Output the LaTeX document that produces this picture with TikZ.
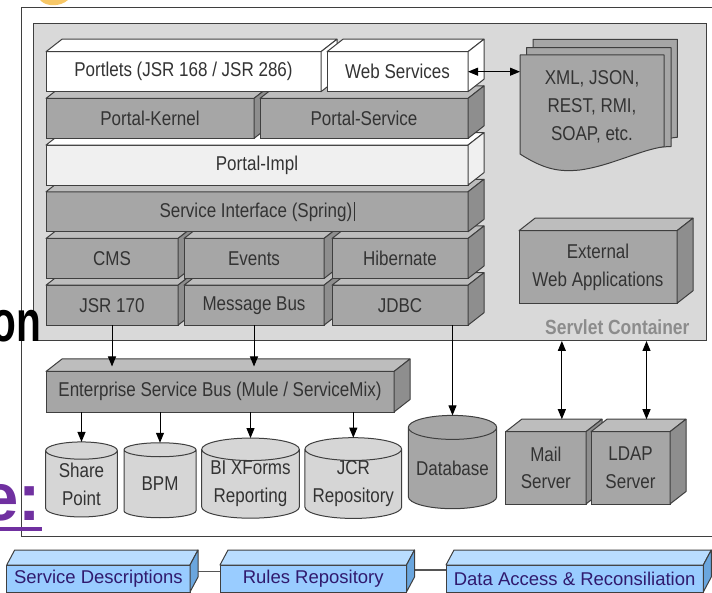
\documentclass[tikz,border=0pt]{standalone}
\usepackage{fontspec}
\setmainfont{Liberation Sans}
\newfontfamily\diagfont{Liberation Sans}[FakeStretch=0.85]
\usetikzlibrary{shapes.geometric,arrows.meta}

\definecolor{edgegray}{HTML}{3F3F3F}
\definecolor{boxgray}{HTML}{A6A6A6}
\definecolor{boxtop}{HTML}{BDBDBD}
\definecolor{boxside}{HTML}{8E8E8E}
\definecolor{panegray}{HTML}{D9D9D9}
\definecolor{implfill}{HTML}{F0F0F0}
\definecolor{cylfill}{HTML}{D6D6D6}
\definecolor{textgray}{HTML}{333333}
\definecolor{labelgray}{HTML}{8C8C8C}
\definecolor{linkgray}{HTML}{555555}
\definecolor{bluefront}{HTML}{99CCFF}
\definecolor{bluetop}{HTML}{B9DDFF}
\definecolor{blueside}{HTML}{6AA6DE}
\definecolor{bluetext}{HTML}{301A6E}
\definecolor{slidepurple}{HTML}{7030A0}
\definecolor{blobyellow}{HTML}{F7C767}

\newcommand{\lblfont}{\diagfont\fontsize{20}{28}\selectfont}
% top and right face of a block node: [depth]{node}{top fill}{side fill}
\newcommand{\cubefaces}[4][16,-12.5]{%
  \filldraw[face, fill=#3] (#2.north west) -- ([shift={(#1)}]#2.north west)
    -- ([shift={(#1)}]#2.north east) -- (#2.north east) -- cycle;
  \filldraw[face, fill=#4] (#2.north east) -- ([shift={(#1)}]#2.north east)
    -- ([shift={(#1)}]#2.south east) -- (#2.south east) -- cycle;
}

\tikzset{face/.style={draw=edgegray, line width=1pt, line join=round}}
\tikzset{blk/.style={draw=edgegray, line width=1pt, inner sep=0pt, outer sep=0pt,
  anchor=north west, minimum height=40, font=\lblfont, text=textgray, align=center}}
\tikzset{gblk/.style={blk, fill=boxgray}}
\tikzset{wblk/.style={blk, fill=white}}
\tikzset{iblk/.style={blk, fill=implfill}}
\tikzset{cyl/.style={cylinder, shape border rotate=90, aspect=0.38, draw=edgegray,
  line width=1pt, inner sep=0pt, outer sep=0pt, fill=cylfill, font=\lblfont,
  text=textgray, align=center}}
\tikzset{arr/.style={draw=black, line width=1pt, -{Triangle[length=10pt,width=8pt]}}}
\tikzset{dblarr/.style={draw=black, line width=1pt,
  {Triangle[length=10pt,width=8pt]}-{Triangle[length=10pt,width=8pt]}}}
\tikzset{bluebox/.style={draw=edgegray, line width=1pt, fill=bluefront, inner sep=0pt,
  outer sep=0pt, anchor=north west, minimum height=27,
  font=\fontsize{18.5}{20}\selectfont, text=bluetext}}
\tikzset{link/.style={draw=linkgray, line width=1.5pt}}

\begin{document}
\begin{tikzpicture}[x=1pt, y=-1pt]
    \path[use as bounding box, clip] (0,0) rectangle (712,593);

    \fill[blobyellow] (40,0) .. controls (46,7) and (60,7) .. (68,0) -- cycle;

    \node[draw=edgegray, line width=1pt, fill=white, anchor=north west, inner sep=0pt,
      minimum width=720, minimum height=529.3] (frame) at (20.7,6.7) {};
    \node[draw=edgegray, line width=1pt, fill=panegray, anchor=north west, inner sep=0pt,
      outer sep=0pt, minimum width=672.7, minimum height=317.7] (servlet) at (33.3,23.3) {};

    % portal stack, bottom row first
    \node[gblk, minimum width=132] (jsr) at (46,285.2) {JSR 170};
    \cubefaces{jsr}{boxtop}{boxside}
    \node[gblk, minimum width=140] (msgbus) at (184,285.2) {Message Bus};
    \cubefaces{msgbus}{boxtop}{boxside}
    \node[gblk, minimum width=136] (jdbc) at (332,285.2) {JDBC};
    \cubefaces{jdbc}{boxtop}{boxside}

    \node[gblk, minimum width=132] (cms) at (46,238.5) {CMS};
    \cubefaces{cms}{boxtop}{boxside}
    \node[gblk, minimum width=140] (events) at (184,238.5) {Events};
    \cubefaces{events}{boxtop}{boxside}
    \node[gblk, minimum width=136] (hibernate) at (332,238.5) {Hibernate};
    \cubefaces{hibernate}{boxtop}{boxside}

    \node[gblk, minimum width=422] (spring) at (46,191.8)
      {Service Interface (Spring)\hspace{1.5pt}\rule[-4pt]{0.7pt}{19pt}};
    \cubefaces{spring}{boxtop}{boxside}

    \node[iblk, minimum width=422] (impl) at (46,145.1) {Portal-Impl};
    \cubefaces{impl}{white}{implfill}

    \node[gblk, minimum width=208] (kernel) at (46,98.4) {Portal-Kernel};
    \cubefaces{kernel}{boxtop}{boxside}
    \node[gblk, minimum width=208] (service) at (260,98.4) {Portal-Service};
    \cubefaces{service}{boxtop}{boxside}

    \node[wblk, minimum width=275] (portlets) at (46,51.7) {Portlets (JSR 168 / JSR 286)};
    \cubefaces{portlets}{white}{white}
    \node[wblk, minimum width=141] (web) at (327,51.7) {Web Services};
    \cubefaces{web}{white}{white}

    % stacked documents
    \filldraw[face, fill=boxgray] (533,39.3) -- (677.3,39.3) -- (677.3,137.3)
      .. controls (672,137.5) and (668,139) .. (664,140) -- (533,140) -- cycle;
    \filldraw[face, fill=boxgray] (526.5,47.7) -- (671,47.7) -- (671,146.7)
      .. controls (662,146.5) and (650,148) .. (640,150) -- (526.5,150) -- cycle;
    \filldraw[face, fill=boxgray] (520,55) -- (664,55) -- (664,146.7)
      .. controls (640,150) and (610,166) .. (580,170)
      .. controls (560,172) and (545,170) .. (520,154) -- cycle;
    \node[font=\lblfont, text=textgray, align=center] (formats) at (592,107)
      {XML, JSON,\\REST, RMI,\\SOAP, etc.};
    \coordinate (docs) at (520,71.7);

    \node[gblk, minimum width=158, minimum height=72.6] (extweb) at (519,230.7)
      {External\\Web Applications};
    \cubefaces{extweb}{boxtop}{boxside}

    \node[font=\diagfont\bfseries\fontsize{20.5}{22}\selectfont, text=labelgray, anchor=east]
      (svlabel) at (693,327) {Servlet Container};

    % bus, stores and servers
    \node[gblk, minimum width=348, minimum height=40.5] (esb) at (46,371.5)
      {Enterprise Service Bus (Mule / ServiceMix)};
    \cubefaces{esb}{boxtop}{boxside}

    \node[cyl, minimum width=71.6, minimum height=75] (share) at (81.5,484) {Share\\Point};
    \node[cyl, minimum width=72, minimum height=75] (bpm) at (160,484) {BPM};
    \node[cyl, aspect=0.28, minimum width=97.6, minimum height=75] (bi) at (250.5,484) {BI XForms\\Reporting};
    \node[cyl, aspect=0.28, minimum width=96.7, minimum height=75] (jcr) at (353.3,484) {JCR\\Repository};
    \node[cyl, aspect=0.33, fill=boxgray, minimum width=88.4, minimum height=93.3] (db) at (452.5,468.3) {Database};

    \node[gblk, minimum width=80.3, minimum height=72.3] (mail) at (505.7,431.7) {Mail\\Server};
    \cubefaces{mail}{boxtop}{boxside}
    \node[gblk, minimum width=79, minimum height=72.3] (ldap) at (591,431.7) {LDAP\\Server};
    \cubefaces{ldap}{boxtop}{boxside}
    \coordinate (mailtop) at ([shift={(16,-12.5)}]mail.north);
    \coordinate (ldaptop) at ([shift={(16,-12.5)}]ldap.north);

    \draw[dblarr] (web.east) -- (web.east -| docs);
    \draw[arr, shorten >=5pt] (jsr.south) -- (jsr.south |- esb.north);
    \draw[arr, shorten >=5pt] (msgbus.south) -- (msgbus.south |- esb.north);
    \draw[arr] (db.north |- jdbc.south) -- (db.north);
    \draw[arr] (esb.south -| share.north) -- (share.north);
    \draw[arr] (esb.south -| bpm.north) -- (bpm.north);
    \draw[arr] (esb.south -| bi.north) -- (bi.north);
    \draw[arr] (esb.south -| jcr.north) -- (jcr.north);
    \draw[dblarr] (mailtop) -- (mailtop |- servlet.south);
    \draw[dblarr] (ldaptop) -- (ldaptop |- servlet.south);

    % blue row at the bottom
    \node[bluebox, minimum width=183.3] (descr) at (6.7,565) {Service Descriptions};
    \node[bluebox, minimum width=186.5] (rules) at (220,565) {Rules Repository};
    \node[bluebox, minimum width=257.3] (access) at (446,565) {Data Access \& Reconsiliation};
    \draw[link] ([yshift=7pt]descr.east) -- ([yshift=7pt]rules.west);
    \draw[link] ([yshift=8.5pt]rules.east) -- ([yshift=8.5pt]access.west);
    \cubefaces[8,-15]{descr}{bluetop}{blueside}
    \cubefaces[8,-15]{rules}{bluetop}{blueside}
    \cubefaces[8,-15]{access}{bluetop}{blueside}

    % slide text lying on top
    \node[font=\bfseries\fontsize{58}{58}\selectfont, xscale=0.7, anchor=base east,
      inner sep=0pt] (slideon) at (41,341.7) {on};
    \node[font=\bfseries\fontsize{67}{67}\selectfont, text=slidepurple, anchor=base east,
      inner sep=0pt] (slidee) at (41.5,520) {e:};
    \draw[slidepurple, line width=4pt] ([yshift=-9pt]slidee.base west)
      -- ([yshift=-9pt]slidee.base east);
\end{tikzpicture}
\end{document}
